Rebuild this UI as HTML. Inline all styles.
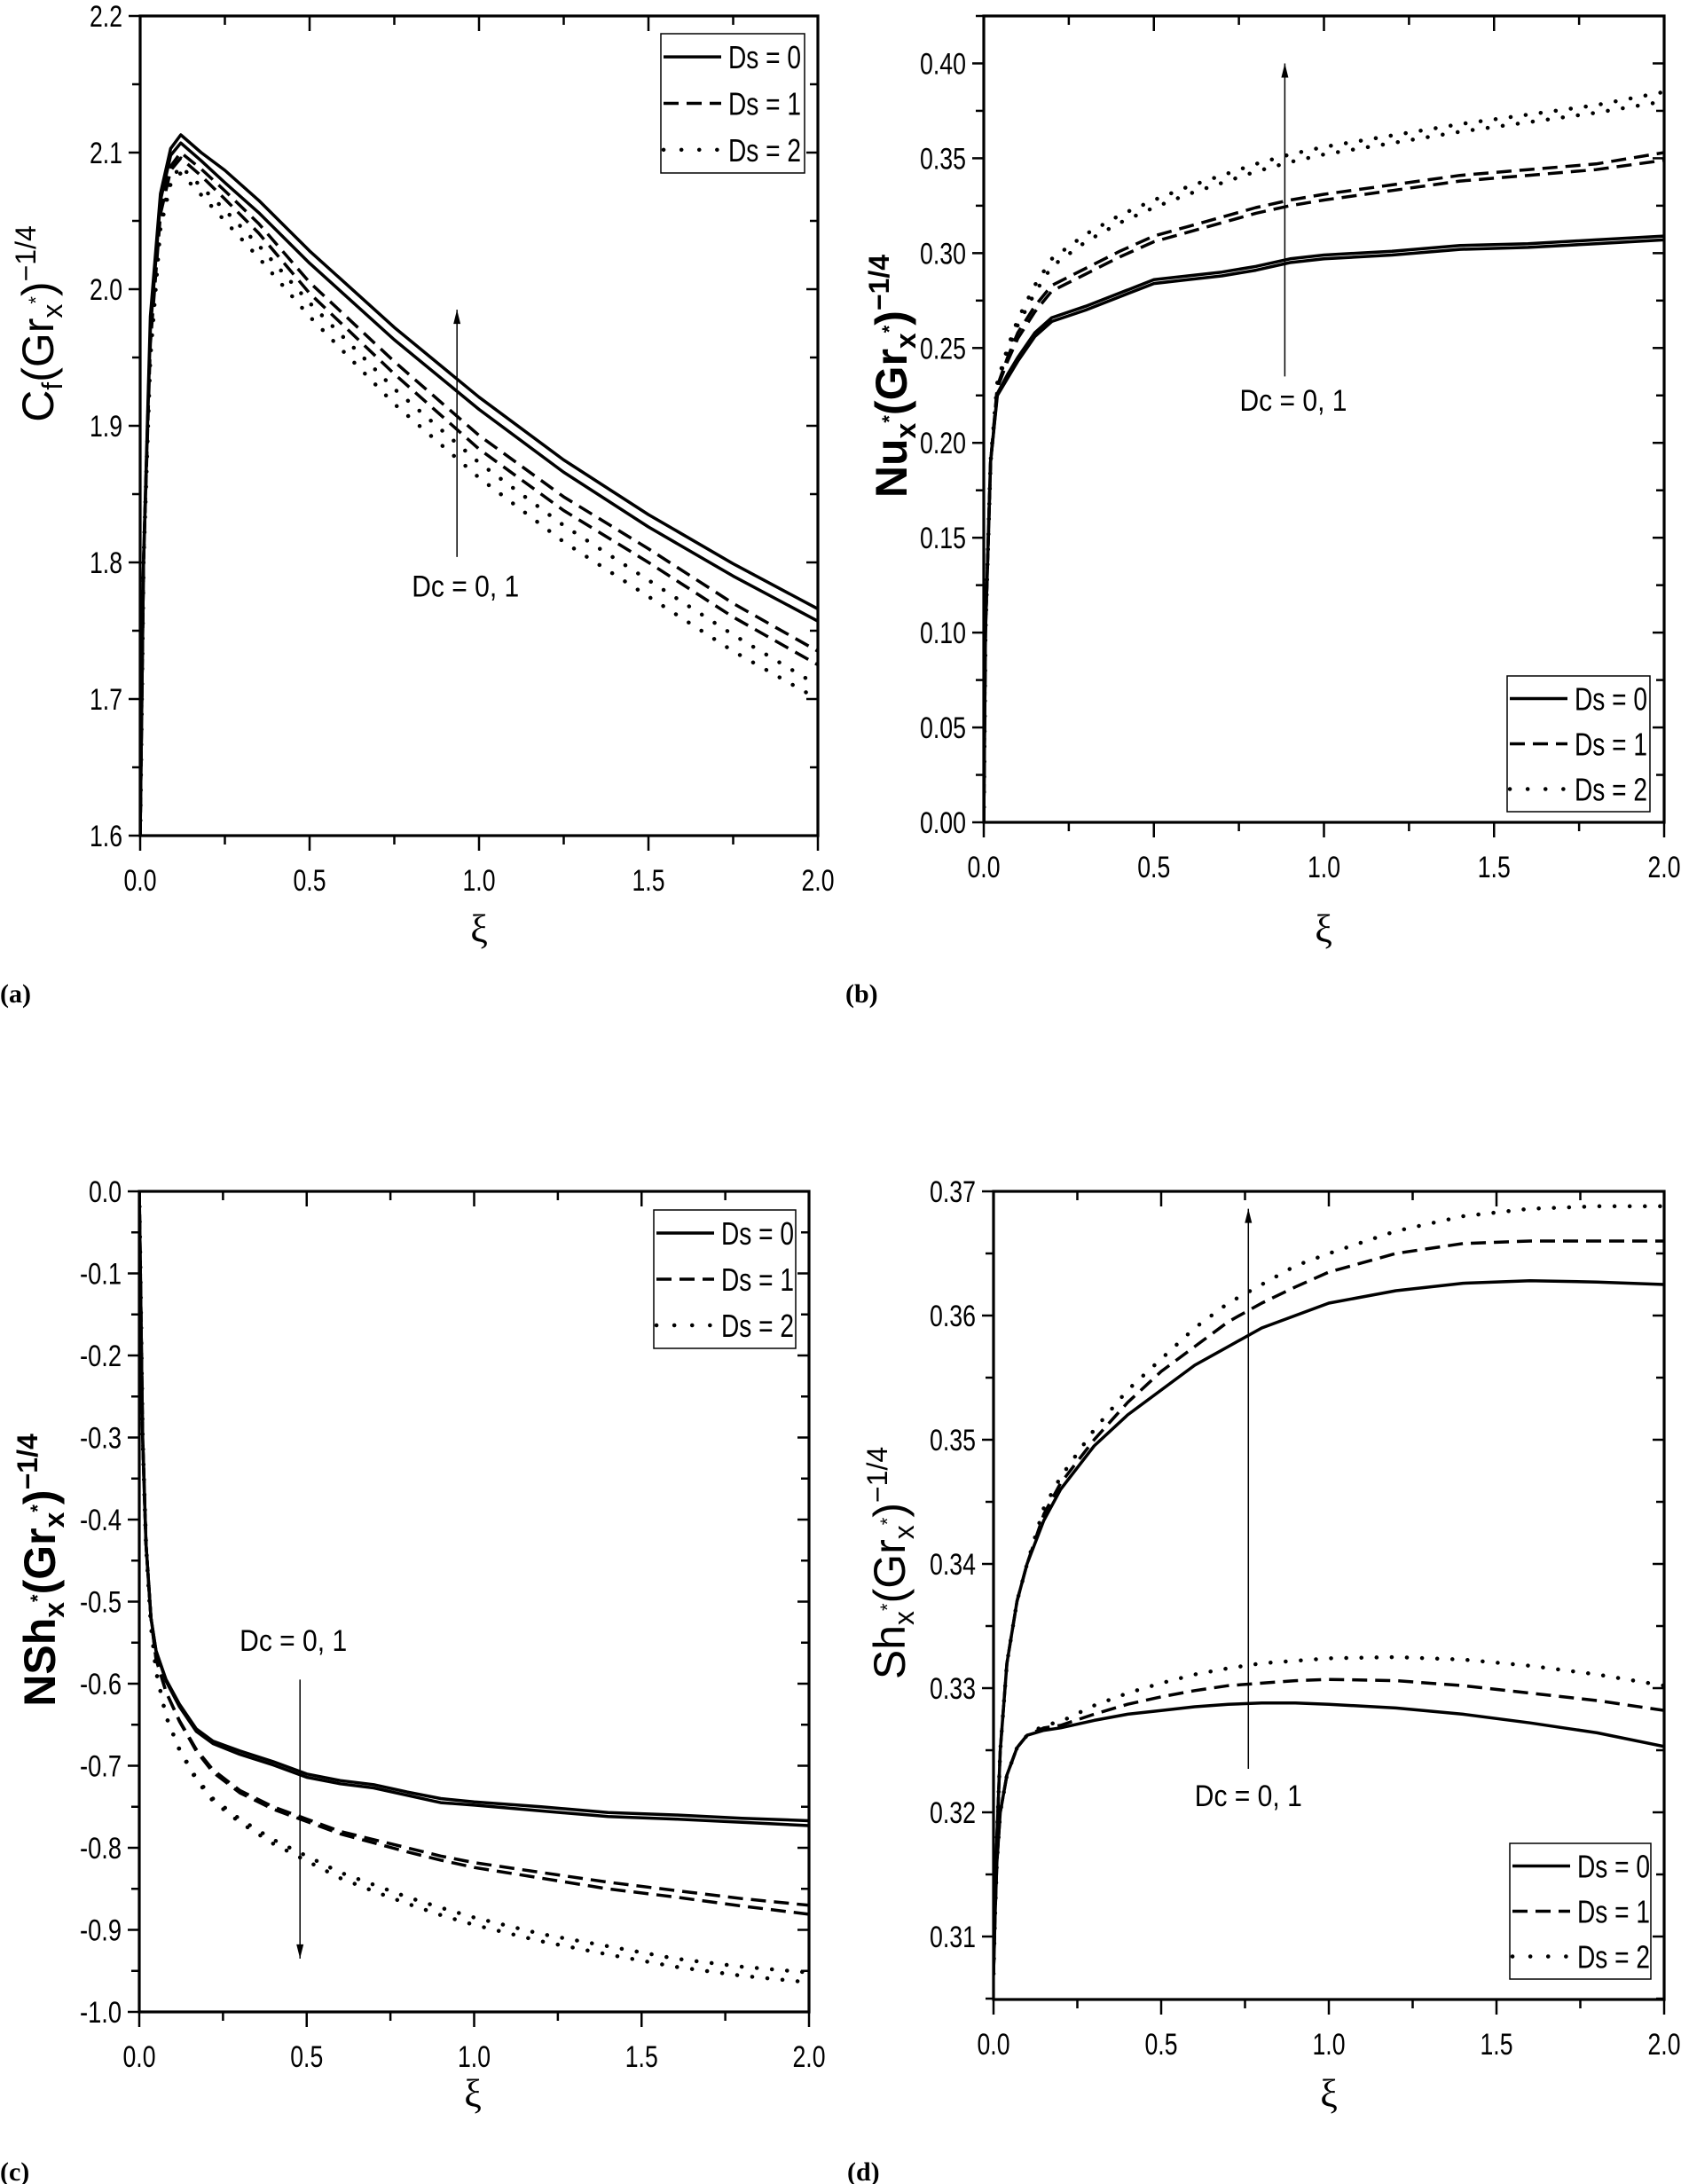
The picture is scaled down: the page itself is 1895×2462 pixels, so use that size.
<!DOCTYPE html>
<html><head><meta charset="utf-8"><style>
html,body{margin:0;padding:0;background:#fff;}
svg{display:block;font-family:"Liberation Sans",Arial,sans-serif;}
</style></head><body>
<svg id="fig" width="1895" height="2462" viewBox="0 0 1895 2462" xmlns="http://www.w3.org/2000/svg">
<rect x="0" y="0" width="1895" height="2462" fill="#fff"/>
<g font-size="50" fill="#000">
<text transform="translate(60,365) rotate(-90)" text-anchor="middle">C<tspan font-size="32" dy="10">f</tspan><tspan dy="-10">(Gr</tspan><tspan font-size="32" dy="10">x</tspan><tspan font-size="22" dy="-22">*</tspan><tspan dy="12">)</tspan><tspan font-size="32" dy="-20">−1/4</tspan></text>
<text font-weight="bold" transform="translate(1022,424) rotate(-90)" text-anchor="middle">Nu<tspan font-size="32" dy="10">x</tspan><tspan font-size="22" dy="-22">*</tspan><tspan dy="12">(Gr</tspan><tspan font-size="32" dy="10">x</tspan><tspan font-size="22" dy="-22">*</tspan><tspan dy="12">)</tspan><tspan font-size="32" dy="-20">−1/4</tspan></text>
<text font-weight="bold" transform="translate(62,1770) rotate(-90)" text-anchor="middle">NSh<tspan font-size="32" dy="10">x</tspan><tspan font-size="22" dy="-22">*</tspan><tspan dy="12">(Gr</tspan><tspan font-size="32" dy="10">x</tspan><tspan font-size="22" dy="-22">*</tspan><tspan dy="12">)</tspan><tspan font-size="32" dy="-20">−1/4</tspan></text>
<text transform="translate(1020,1762) rotate(-90)" text-anchor="middle">Sh<tspan font-size="32" dy="10">x</tspan><tspan font-size="22" dy="-22">*</tspan><tspan dy="12">(Gr</tspan><tspan font-size="32" dy="10">x</tspan><tspan font-size="22" dy="-22">*</tspan><tspan dy="12">)</tspan><tspan font-size="32" dy="-20">−1/4</tspan></text>
</g>
<g font-family="'Liberation Serif',serif" font-size="44" text-anchor="middle">
<text x="540" y="1062">ξ</text>
<text x="1492" y="1062">ξ</text>
<text x="533" y="2375">ξ</text>
<text x="1498" y="2375">ξ</text>
</g>
<g font-family="'Liberation Serif',serif" font-size="30" font-weight="bold">
<text x="0" y="1130">(a)</text>
<text x="953" y="1130">(b)</text>
<text x="0" y="2458">(c)</text>
<text x="955" y="2458">(d)</text>
</g>
</svg>
<script>
// ---- data (a) ----
const xiA = [0,0.01,0.03,0.06,0.09,0.12,0.18,0.25,0.35,0.5,0.75,1.0,1.25,1.5,1.75,2.0];
const cfDs0Hi = [1.6,1.80,1.98,2.07,2.103,2.113,2.100,2.087,2.065,2.028,1.972,1.921,1.875,1.835,1.799,1.766];
const cfDs0Lo = [1.6,1.80,1.97,2.065,2.098,2.107,2.094,2.078,2.056,2.019,1.963,1.912,1.866,1.826,1.790,1.757];
const cfDs1Hi = [1.6,1.80,1.97,2.06,2.09,2.100,2.088,2.072,2.048,2.005,1.947,1.893,1.848,1.810,1.770,1.735];
const cfDs1Lo = [1.6,1.80,1.96,2.055,2.087,2.096,2.083,2.066,2.041,1.997,1.938,1.883,1.838,1.800,1.760,1.725];
const cfDs2Hi = [1.6,1.80,1.96,2.05,2.08,2.090,2.075,2.058,2.032,1.99,1.927,1.873,1.827,1.787,1.747,1.71];
const cfDs2Lo = [1.6,1.80,1.95,2.045,2.077,2.085,2.069,2.05,2.023,1.98,1.916,1.862,1.815,1.775,1.735,1.70];
// ---- data (b) ----
const xiB = [0,0.005,0.02,0.04,0.07,0.1,0.15,0.2,0.3,0.4,0.5,0.6,0.7,0.8,0.9,1.0,1.2,1.4,1.6,1.8,2.0];
const nuDs0Hi = [0,0.10,0.19,0.226,0.236,0.245,0.258,0.266,0.272,0.279,0.286,0.288,0.290,0.293,0.297,0.299,0.301,0.304,0.305,0.307,0.309];
const nuDs0Lo = [0,0.10,0.19,0.225,0.234,0.243,0.256,0.264,0.270,0.277,0.284,0.286,0.288,0.291,0.295,0.297,0.299,0.302,0.303,0.305,0.307];
const nuDs1Hi = [0,0.10,0.19,0.23,0.245,0.258,0.272,0.283,0.292,0.301,0.309,0.314,0.319,0.324,0.328,0.331,0.336,0.341,0.344,0.347,0.353];
const nuDs1Lo = [0,0.10,0.19,0.229,0.243,0.255,0.269,0.28,0.289,0.298,0.306,0.311,0.316,0.321,0.325,0.328,0.333,0.338,0.341,0.344,0.349];
const nuDs2Hi = [0,0.10,0.19,0.232,0.25,0.265,0.283,0.297,0.31,0.32,0.328,0.335,0.341,0.347,0.352,0.356,0.362,0.368,0.373,0.378,0.385];
const nuDs2Lo = [0,0.10,0.19,0.231,0.248,0.262,0.279,0.293,0.306,0.316,0.324,0.331,0.337,0.343,0.348,0.352,0.358,0.364,0.369,0.374,0.380];
// ---- data (c) ----
const xiC = [0,0.005,0.01,0.02,0.035,0.05,0.08,0.12,0.17,0.22,0.3,0.4,0.5,0.6,0.7,0.8,0.9,1.0,1.2,1.4,1.6,1.8,2.0];
const nshDs0Hi = [0,-0.15,-0.3,-0.43,-0.52,-0.56,-0.595,-0.625,-0.655,-0.67,-0.682,-0.695,-0.71,-0.718,-0.723,-0.732,-0.74,-0.744,-0.75,-0.757,-0.76,-0.764,-0.767];
const nshDs0Lo = [0,-0.15,-0.3,-0.43,-0.52,-0.56,-0.597,-0.628,-0.658,-0.673,-0.686,-0.699,-0.714,-0.722,-0.727,-0.736,-0.745,-0.748,-0.755,-0.762,-0.765,-0.769,-0.773];
const nshDs1Hi = [0,-0.15,-0.3,-0.43,-0.52,-0.57,-0.61,-0.645,-0.68,-0.705,-0.73,-0.75,-0.765,-0.78,-0.79,-0.80,-0.81,-0.818,-0.83,-0.842,-0.852,-0.862,-0.87];
const nshDs1Lo = [0,-0.15,-0.3,-0.43,-0.52,-0.57,-0.61,-0.646,-0.682,-0.708,-0.733,-0.753,-0.768,-0.783,-0.794,-0.805,-0.815,-0.824,-0.837,-0.85,-0.86,-0.871,-0.881];
const nshDs2Hi = [0,-0.15,-0.3,-0.43,-0.53,-0.585,-0.64,-0.68,-0.715,-0.74,-0.765,-0.79,-0.81,-0.83,-0.845,-0.86,-0.873,-0.885,-0.905,-0.92,-0.935,-0.945,-0.952];
const nshDs2Lo = [0,-0.15,-0.3,-0.43,-0.53,-0.585,-0.64,-0.681,-0.717,-0.743,-0.769,-0.795,-0.816,-0.837,-0.853,-0.868,-0.882,-0.894,-0.914,-0.93,-0.945,-0.956,-0.964];
// ---- data (d) ----
const xiD = [0,0.005,0.01,0.02,0.04,0.07,0.1,0.15,0.2,0.3,0.4,0.5,0.6,0.7,0.8,0.9,1.0,1.2,1.4,1.6,1.8,2.0];
const shDs0Hi = [0.307,0.313,0.318,0.325,0.332,0.337,0.340,0.3435,0.346,0.3495,0.352,0.354,0.356,0.3575,0.359,0.360,0.361,0.362,0.3626,0.3628,0.3627,0.3625];
const shDs1Hi = [0.307,0.313,0.318,0.325,0.332,0.337,0.340,0.344,0.3465,0.350,0.353,0.3555,0.3575,0.3595,0.361,0.3623,0.3635,0.365,0.3658,0.366,0.366,0.366];
const shDs2Hi = [0.307,0.313,0.318,0.325,0.332,0.337,0.340,0.3445,0.347,0.3508,0.354,0.3565,0.359,0.361,0.3625,0.364,0.365,0.3668,0.368,0.3686,0.3688,0.3688];
const shDs0Lo = [0.307,0.312,0.316,0.320,0.323,0.3252,0.3262,0.3266,0.3268,0.3274,0.3279,0.3282,0.3285,0.3287,0.3288,0.3288,0.3287,0.3284,0.3279,0.3272,0.3264,0.3253];
const shDs1Lo = [0.307,0.312,0.316,0.320,0.323,0.3252,0.3262,0.3268,0.327,0.3279,0.3287,0.3293,0.3298,0.3302,0.3304,0.3306,0.3307,0.3306,0.3302,0.3296,0.329,0.3282];
const shDs2Lo = [0.307,0.312,0.316,0.320,0.323,0.3252,0.3262,0.327,0.3273,0.3286,0.3296,0.3304,0.3311,0.3316,0.332,0.3322,0.3324,0.3325,0.3323,0.3318,0.3311,0.3302];
const legendLabels = ["Ds = 0","Ds = 1","Ds = 2"];
const arrowLabel = "Dc = 0, 1";

const NS = "http://www.w3.org/2000/svg";
const svg = document.getElementById("fig");
function mk(tag, attrs, parent){
  const e = document.createElementNS(NS, tag);
  for (const k in attrs) e.setAttribute(k, attrs[k]);
  (parent||svg).appendChild(e);
  return e;
}
const STY = [
  {dash:null, w:3.5, cap:"butt"},
  {dash:"17 9", w:3.5, cap:"butt"},
  {dash:"0.1 17", w:4.5, cap:"round"}
];
function labW(s){let w=0;for(const c of s){w+= c==='.'?7:(c==='-'?10:15);}return w;}

function panel(p){
  const g = mk("g",{});
  
  
  const X = v => p.x0 + (v - 0)/(2 - 0)*(p.x1 - p.x0);
  const Y = v => p.y1 - (v - p.vmin)/(p.vmax - p.vmin)*(p.y1 - p.y0);
  const cp = mk("clipPath",{id:"clip"+p.id}, g);
  mk("rect",{x:p.x0,y:p.y0,width:p.x1-p.x0,height:p.y1-p.y0}, cp);
  p.series.forEach((s,i)=>{
    const st = STY[s.style];
    const pts = s.vals.map((v,k)=>X(p.xs[k]).toFixed(1)+","+Y(v).toFixed(1)).join(" ");
    const pl = mk("polyline",{points:pts,fill:"none",stroke:"#000","stroke-width":st.w,"stroke-linecap":st.cap,"stroke-linejoin":"round","clip-path":"url(#clip"+p.id+")"}, g);
    if(st.dash) pl.setAttribute("stroke-dasharray", st.dash);
    
    
  });
  const fr = mk("rect",{x:p.x0,y:p.y0,width:p.x1-p.x0,height:p.y1-p.y0,fill:"none",stroke:"#000","stroke-width":3.2}, g);
  
  
  for(let k=0;k<=8;k++){
    const v=k*0.25, x=X(v), maj=k%2===0, L=maj?17:10;
    mk("line",{x1:x,y1:p.y1,x2:x,y2:p.y1+L,stroke:"#000","stroke-width":2.5}, g);
    mk("line",{x1:x,y1:p.y0,x2:x,y2:p.y0+L,stroke:"#000","stroke-width":2.5}, g);
    if(maj){
      const t = mk("text",{x:x,y:p.y1+62,"text-anchor":"middle","font-size":34,textLength:labW(v.toFixed(1)),lengthAdjust:"spacingAndGlyphs"}, g);
      t.textContent = v.toFixed(1);
      
      
    }
  }
  const start = Math.ceil(p.vmin/p.minor - 1e-6);
  for(let k=start; k*p.minor <= p.vmax + 1e-9; k++){
    const v = k*p.minor, y=Y(v);
    const maj = Math.abs(Math.round(v/p.major)*p.major - v) < 1e-9;
    const L = maj?13:9;
    mk("line",{x1:p.x0-L,y1:y,x2:p.x0,y2:y,stroke:"#000","stroke-width":2.5}, g);
    mk("line",{x1:p.x1-L,y1:y,x2:p.x1,y2:y,stroke:"#000","stroke-width":2.5}, g);
    if(maj){
      const s = v.toFixed(p.dec).replace(/^-0\.(0+)$/,"0.$1");
      const t = mk("text",{x:p.x0-20,y:y+12,"text-anchor":"end","font-size":34,textLength:labW(s),lengthAdjust:"spacingAndGlyphs"}, g);
      t.textContent = s;
      
      
    }
  }
  const ax = X(p.arrow[0]), ya = Y(p.arrow[1]), yb = Y(p.arrow[2]);
  const ar = mk("line",{x1:ax,y1:ya,x2:ax,y2:yb,stroke:"#000","stroke-width":1.5}, g);
  
  
  const dir = yb<ya? 1 : -1;
  mk("polygon",{points:`${ax},${yb} ${ax-4},${yb+dir*16} ${ax+4},${yb+dir*16}`,fill:"#000"}, g);
  const at = mk("text",{x:X(p.lab[0]),y:Y(p.lab[1]),"text-anchor":"middle","font-size":34,textLength:121,lengthAdjust:"spacingAndGlyphs"}, g);
  at.textContent = arrowLabel;
  
  
  const lg = mk("g",{}, g);
  
  
  const [lx0,ly0,lx1,ly1] = p.leg;
  mk("rect",{x:lx0,y:ly0,width:lx1-lx0,height:ly1-ly0,fill:"#fff",stroke:"#000","stroke-width":1.5}, lg);
  const rh = (ly1-ly0)/3;
  legendLabels.forEach((lab,i)=>{
    const cy = ly0 + rh*(i+0.5);
    const st = STY[i];
    const ln = mk("line",{x1:lx0+3,y1:cy,x2:lx0+68,y2:cy,stroke:"#000","stroke-width":st.w,"stroke-linecap":st.cap}, lg);
    if(st.dash) ln.setAttribute("stroke-dasharray", i===2?"0.1 20":st.dash);
    const t = mk("text",{x:lx0+76,y:cy+13,"font-size":36,textLength:82,lengthAdjust:"spacingAndGlyphs"}, lg);
    t.textContent = lab;
    
    
  });
}

panel({id:"a",x0:158,x1:922,y0:18,y1:942,vmin:1.6,vmax:2.2,major:0.1,minor:0.05,dec:1,xs:xiA,
  series:[{name:"ds0-hi",style:0,vals:cfDs0Hi},{name:"ds0-lo",style:0,vals:cfDs0Lo},
          {name:"ds1-hi",style:1,vals:cfDs1Hi},{name:"ds1-lo",style:1,vals:cfDs1Lo},
          {name:"ds2-hi",style:2,vals:cfDs2Hi},{name:"ds2-lo",style:2,vals:cfDs2Lo}],
  arrow:[0.935,1.804,1.985], lab:[0.96,1.775], leg:[745,38,907,195]});
panel({id:"b",x0:1109,x1:1876,y0:18,y1:927,vmin:0,vmax:0.425,major:0.05,minor:0.025,dec:2,xs:xiB,
  series:[{name:"ds0-hi",style:0,vals:nuDs0Hi},{name:"ds0-lo",style:0,vals:nuDs0Lo},
          {name:"ds1-hi",style:1,vals:nuDs1Hi},{name:"ds1-lo",style:1,vals:nuDs1Lo},
          {name:"ds2-hi",style:2,vals:nuDs2Hi},{name:"ds2-lo",style:2,vals:nuDs2Lo}],
  arrow:[0.885,0.235,0.40], lab:[0.91,0.217], leg:[1699,762,1860,915]});
panel({id:"c",x0:157,x1:912,y0:1343,y1:2268,vmin:-1.0,vmax:0,major:0.1,minor:0.05,dec:1,xs:xiC,
  series:[{name:"ds0-hi",style:0,vals:nshDs0Hi},{name:"ds0-lo",style:0,vals:nshDs0Lo},
          {name:"ds1-hi",style:1,vals:nshDs1Hi},{name:"ds1-lo",style:1,vals:nshDs1Lo},
          {name:"ds2-hi",style:2,vals:nshDs2Hi},{name:"ds2-lo",style:2,vals:nshDs2Lo}],
  arrow:[0.48,-0.595,-0.935], lab:[0.46,-0.56], leg:[737,1364,897,1520]});
panel({id:"d",x0:1120,x1:1876,y0:1343,y1:2254,vmin:0.30493,vmax:0.37,major:0.01,minor:0.005,dec:2,xs:xiD,
  series:[{name:"ds0-hi",style:0,vals:shDs0Hi},{name:"ds0-lo",style:0,vals:shDs0Lo},
          {name:"ds1-hi",style:1,vals:shDs1Hi},{name:"ds1-lo",style:1,vals:shDs1Lo},
          {name:"ds2-hi",style:2,vals:shDs2Hi},{name:"ds2-lo",style:2,vals:shDs2Lo}],
  arrow:[0.76,0.3235,0.3686], lab:[0.76,0.3205], leg:[1702,2078,1861,2231]});
</script>
</body></html>
